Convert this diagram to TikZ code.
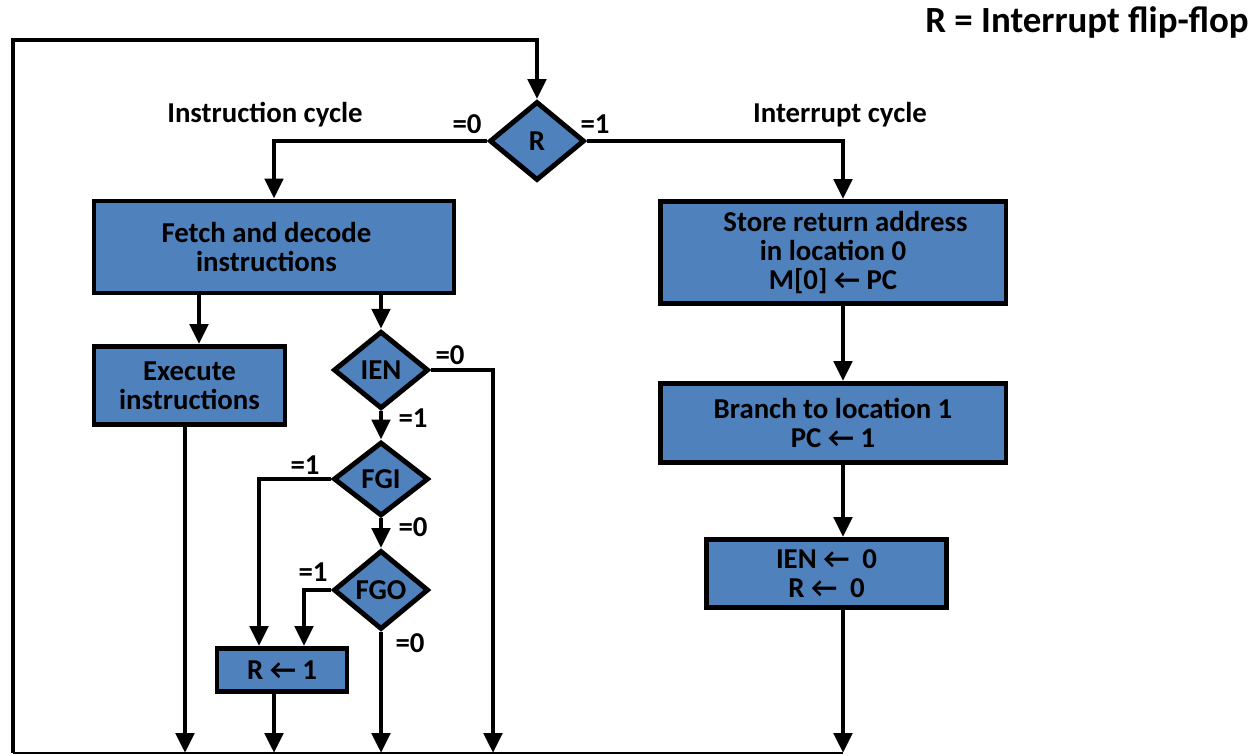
\documentclass[tikz,border=0pt]{standalone}
\usepackage{fontspec}
\setmainfont{Carlito}
\usetikzlibrary{shapes.geometric,arrows.meta,positioning}

\definecolor{boxblue}{HTML}{4F81BD}

\tikzstyle{process} = [rectangle, draw=black, line width=2.8pt, fill=boxblue, text centered, align=center, inner sep=0pt]
\tikzstyle{decision} = [diamond, draw=black, line width=2.8pt, fill=boxblue, text centered, inner sep=0pt, minimum width=1.9cm, minimum height=1.55cm]
\tikzstyle{arrow} = [line width=2.8pt, -{Triangle[width=0.36cm,length=0.4cm]}]
\tikzstyle{thinline} = [line width=1.2pt]
\tikzstyle{flag} = [inner sep=0pt]

\begin{document}
\begin{tikzpicture}[x=0.02cm, y=-0.02cm, font=\bfseries\fontsize{16.4}{16.6}\selectfont]
    \useasboundingbox (0,0) rectangle (1260,756);

    \node (title)[flag, font=\bfseries\fontsize{21}{22}\selectfont] at (1087,22) {R = Interrupt flip-flop};

    \node (R)[decision, minimum height=1.58cm] at (537,141) {R};
    \node (instrCycle)[flag] at (265,115) {Instruction cycle};
    \node (intCycle)[flag] at (840,115) {Interrupt cycle};
    \node (rZero)[flag] at (467,124) {=0};
    \node (rOne)[flag] at (595,124) {=1};

    \node (fetch)[process, minimum width=7.2cm, minimum height=1.84cm] at (274,247) {Fetch and decode\hspace*{0.3cm}\\instructions\hspace*{0.3cm}};
    \node (execute)[process, minimum width=3.82cm, minimum height=1.56cm] at (189.5,385.5) {Execute\\instructions};
    \node (ien)[decision] at (381,370) {IEN};
    \node (fgi)[decision, minimum height=1.48cm] at (381,479) {FGI};
    \node (fgo)[decision, minimum height=1.58cm] at (381,590) {FGO};
    \node (setR)[process, minimum width=2.6cm, minimum height=0.86cm] at (282,670) {R ← 1};

    \node (ienZero)[flag] at (450,355) {=0};
    \node (ienOne)[flag] at (413,418) {=1};
    \node (fgiOne)[flag] at (305,465) {=1};
    \node (fgiZero)[flag] at (413,527) {=0};
    \node (fgoOne)[flag] at (313,572) {=1};
    \node (fgoZero)[flag] at (410,643) {=0};

    \node (store)[process, minimum width=6.92cm, minimum height=2.04cm, align=center] at (833,252.5) {\hspace*{0.5cm}Store return address\\in location 0\\M[0] ← PC};
    \node (branch)[process, minimum width=6.92cm, minimum height=1.58cm] at (833,423) {Branch to location 1\\PC ← 1};
    \node (clear)[process, minimum width=4.8cm, minimum height=1.36cm] at (826.5,573.5) {IEN ←\ \ 0\\R ←\ \ 0};

    \coordinate (loopBL) at (13,753);
    \coordinate (loopTL) at (13,40);
    \coordinate (outExec) at (185,753);
    \coordinate (outSetR) at (274,753);
    \coordinate (outFgo) at (381,753);
    \coordinate (outIen) at (493,753);
    \coordinate (outClear) at (843,753);

    % return loop back to R
    \draw [thinline] (loopBL) -- (outClear);
    \draw [arrow] (loopBL) -- (loopTL) -| (R.north);

    \draw [arrow] (R.west) -| (fetch.north);
    \draw [arrow] (R.east) -| (store.north -| outClear);
    \draw [arrow] (store.south -| outClear) -- (branch.north -| outClear);
    \draw [arrow] (branch.south -| outClear) -- (clear.north -| outClear);
    \draw [arrow] (clear.south -| outClear) -- (outClear);

    \draw [arrow] (fetch.south -| 199,0) -- (execute.north -| 199,0);
    \draw [arrow] (fetch.south -| ien.north) -- (ien.north);
    \draw [arrow] (execute.south -| outExec) -- (outExec);
    \draw [arrow] (ien.east) -| (outIen);
    \draw [arrow] (ien.south) -- (fgi.north);
    \draw [arrow] (fgi.south) -- (fgo.north);
    \draw [arrow] (fgi.west) -| (setR.north -| 259,0);
    \draw [arrow] (fgo.west) -| (setR.north -| 304,0);
    \draw [arrow] (fgo.south) -- (outFgo);
    \draw [arrow] (setR.south -| outSetR) -- (outSetR);
\end{tikzpicture}
\end{document}
